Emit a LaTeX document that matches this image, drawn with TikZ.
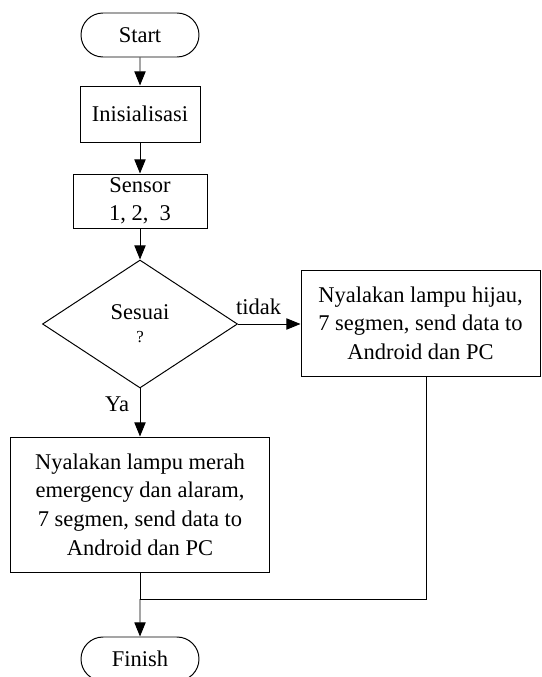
\documentclass[tikz,border=0pt]{standalone}
\usepackage{fontspec}
\setmainfont{Liberation Serif}
\usetikzlibrary{shapes.geometric,shapes.misc,arrows.meta}

\begin{document}
\begin{tikzpicture}[
        kotak/.style={rectangle, draw=black, line width=0.7pt, inner sep=0pt, align=center},
        ujung/.style={rounded rectangle, draw=black, line width=0.7pt, minimum width=2.95cm, minimum height=1.1cm, inner sep=0pt},
        putusan/.style={diamond, draw=black, line width=0.7pt, minimum width=4.875cm, minimum height=3.2cm, inner sep=0pt, align=center},
        panah/.style={-{Triangle[length=10pt, width=8pt]}, line width=0.7pt},
        garis/.style={line width=0.7pt},
        font=\fontsize{16}{20.3}\selectfont
    ]
        \useasboundingbox (0,0) rectangle (13.525,-16.925);

        % Simbol
        \node[ujung] (s) at (3.5,-0.875) {Start};
        \node[kotak, minimum width=3cm, minimum height=1.4cm] (i) at (3.5,-2.85) {Inisialisasi};
        \node[kotak, minimum width=3.35cm, minimum height=1.35cm] (sen) at (3.5,-5.025) {Sensor\\1, 2,~~3};
        \node[putusan] (d) at (3.5,-8.1) {Sesuai\\[-4pt]{\fontsize{12}{14}\selectfont ?}};
        \node[kotak, minimum width=5.975cm, minimum height=2.65cm] (h) at (10.5125,-8.075)
            {Nyalakan lampu hijau,\\7 segmen, send data to\\Android dan PC};
        \node[kotak, minimum width=6.475cm, minimum height=3.375cm] (m) at (3.5,-12.6125)
            {Nyalakan lampu merah\\emergency dan alaram,\\7 segmen, send data to\\Android dan PC};
        \node[ujung] (f) at (3.5,-16.475) {Finish};
        \coordinate (j) at (3.5,-14.975);

        % Garis
        \draw[panah] (s) -- (i);
        \draw[panah] (i) -- (sen);
        \draw[panah] (sen) -- (d);
        \draw[panah] (d.east) -- node[pos=0.33, above=3pt] {tidak} (d.east -| h.west);
        \draw[panah] (d.south) -- node[pos=0.33, left=4pt] {Ya} (m.north);
        \draw[garis] (m.south) -- (j);
        \draw[garis] ([xshift=0.1375cm]h.south) |- (j);
        \draw[panah] (j) -- (f);
    \end{tikzpicture}
\end{document}
